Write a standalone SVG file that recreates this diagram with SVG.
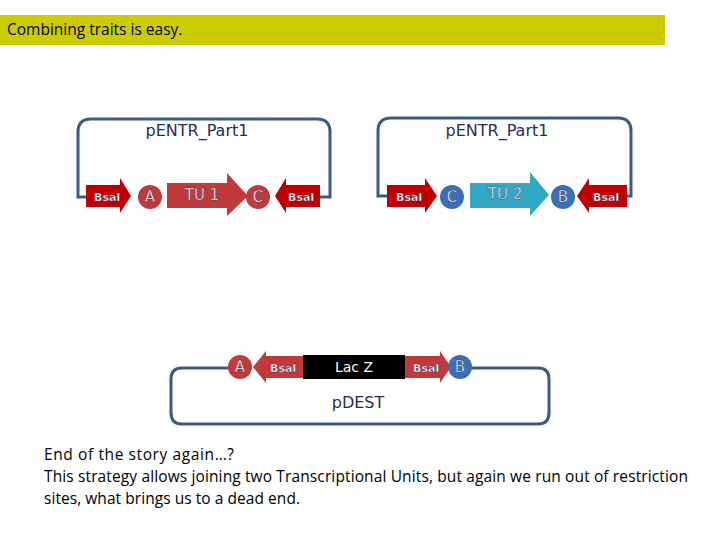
<svg xmlns="http://www.w3.org/2000/svg" width="720" height="540" viewBox="0 0 720 540">
<style>
.t{font-family:"Liberation Sans",Arial,sans-serif;}
.loop{fill:none;stroke:#3d5a80;stroke-width:3}
.red{fill:#c00000}
.ra{fill:#c0393b}
.bc{fill:#3a6fb5}
.lbl{font-family:"DejaVu Sans",sans-serif;font-size:11px;fill:#fff;stroke:#1f2f55;stroke-width:0.4;font-weight:bold}
.cl{font-family:"DejaVu Sans",sans-serif;font-size:15px;fill:#fff;stroke:#1f2f55;stroke-width:0.4;text-anchor:middle}
.pl{font-family:"DejaVu Sans",sans-serif;font-size:16px;fill:#1f2f55;text-anchor:middle}
.body{font-family:"Open Sans","Liberation Sans",sans-serif;font-size:15.5px;fill:#000}
</style>
<rect width="720" height="540" fill="#fff"/>
<rect x="0" y="15" width="665" height="30" fill="#cccc00"/>
<text x="7" y="35" class="body" font-size="14.5">Combining traits is easy.</text>

<g id="entr1">
<path class="loop" d="M88 197 L78 197 L78 132 Q78 119 91 119 L317 119 Q330 119 330 132 L330 197 L320 197"/>
<text x="197" y="136" class="pl">pENTR_Part1</text>
<path class="red" d="M86 185 L120 185 L120 178 L131 196 L120 213 L120 207 L86 207 Z"/>
<text x="94" y="201" class="lbl">BsaI</text>
<circle class="ra" cx="150" cy="197" r="12"/><text x="150" y="202" class="cl">A</text>
<path class="ra" d="M167 183 L227 183 L227 173 L248 196 L227 216 L227 208 L167 208 Z"/>
<text x="202" y="200" class="cl">TU 1</text>
<circle class="ra" cx="258" cy="197" r="12"/><text x="258" y="202" class="cl">C</text>
<path class="red" d="M320 185 L286 185 L286 178 L275 196 L286 213 L286 207 L320 207 Z"/>
<text x="288" y="201" class="lbl">BsaI</text>
</g>

<g id="entr2">
<path class="loop" d="M388 196 L378 196 L378 131 Q378 118 391 118 L618 118 Q631 118 631 131 L631 196 L625 196"/>
<text x="497" y="136" class="pl">pENTR_Part1</text>
<path class="red" d="M387 185 L425 185 L425 178 L437 196 L425 213 L425 207 L387 207 Z"/>
<text x="396" y="201" class="lbl">BsaI</text>
<circle class="bc" cx="452" cy="197" r="12"/><text x="452" y="202" class="cl">C</text>
<path fill="#31a9c4" d="M470 183 L530 183 L530 172 L549 195 L530 216 L530 208 L470 208 Z"/>
<text x="505" y="199" class="cl">TU 2</text>
<circle class="bc" cx="563" cy="197" r="12"/><text x="563" y="202" class="cl">B</text>
<path class="red" d="M627 185 L589 185 L589 178 L577 196 L589 213 L589 207 L627 207 Z"/>
<text x="593" y="201" class="lbl">BsaI</text>
</g>

<g id="dest">
<path class="loop" d="M230 368 L182 368 Q171 368 171 379 L171 413 Q171 424 182 424 L538 424 Q549 424 549 413 L549 379 Q549 368 538 368 L470 368"/>
<text x="358" y="408" class="pl">pDEST</text>
<circle class="ra" cx="240" cy="367" r="12"/><text x="240" y="372" class="cl">A</text>
<path class="ra" d="M304 356 L266 356 L266 351 L253 367 L266 383 L266 378 L304 378 Z"/>
<text x="270" y="372" class="lbl">BsaI</text>
<rect x="303" y="355" width="102" height="24" fill="#000"/>
<text x="354" y="372" font-family="DejaVu Sans,sans-serif" font-size="14" fill="#fff" text-anchor="middle">Lac Z</text>
<path class="ra" d="M405 356 L440 356 L440 351 L451 367 L440 383 L440 378 L405 378 Z"/>
<text x="413" y="372" class="lbl">BsaI</text>
<circle class="bc" cx="460" cy="367" r="12"/><text x="460" y="372" class="cl">B</text>
</g>

<text x="44" y="460" class="body" textLength="190">End of the story again…?</text>
<text x="44" y="482" class="body" textLength="644">This strategy allows joining two Transcriptional Units, but again we run out of restriction</text>
<text x="44" y="504" class="body" textLength="256">sites, what brings us to a dead end.</text>
</svg>
